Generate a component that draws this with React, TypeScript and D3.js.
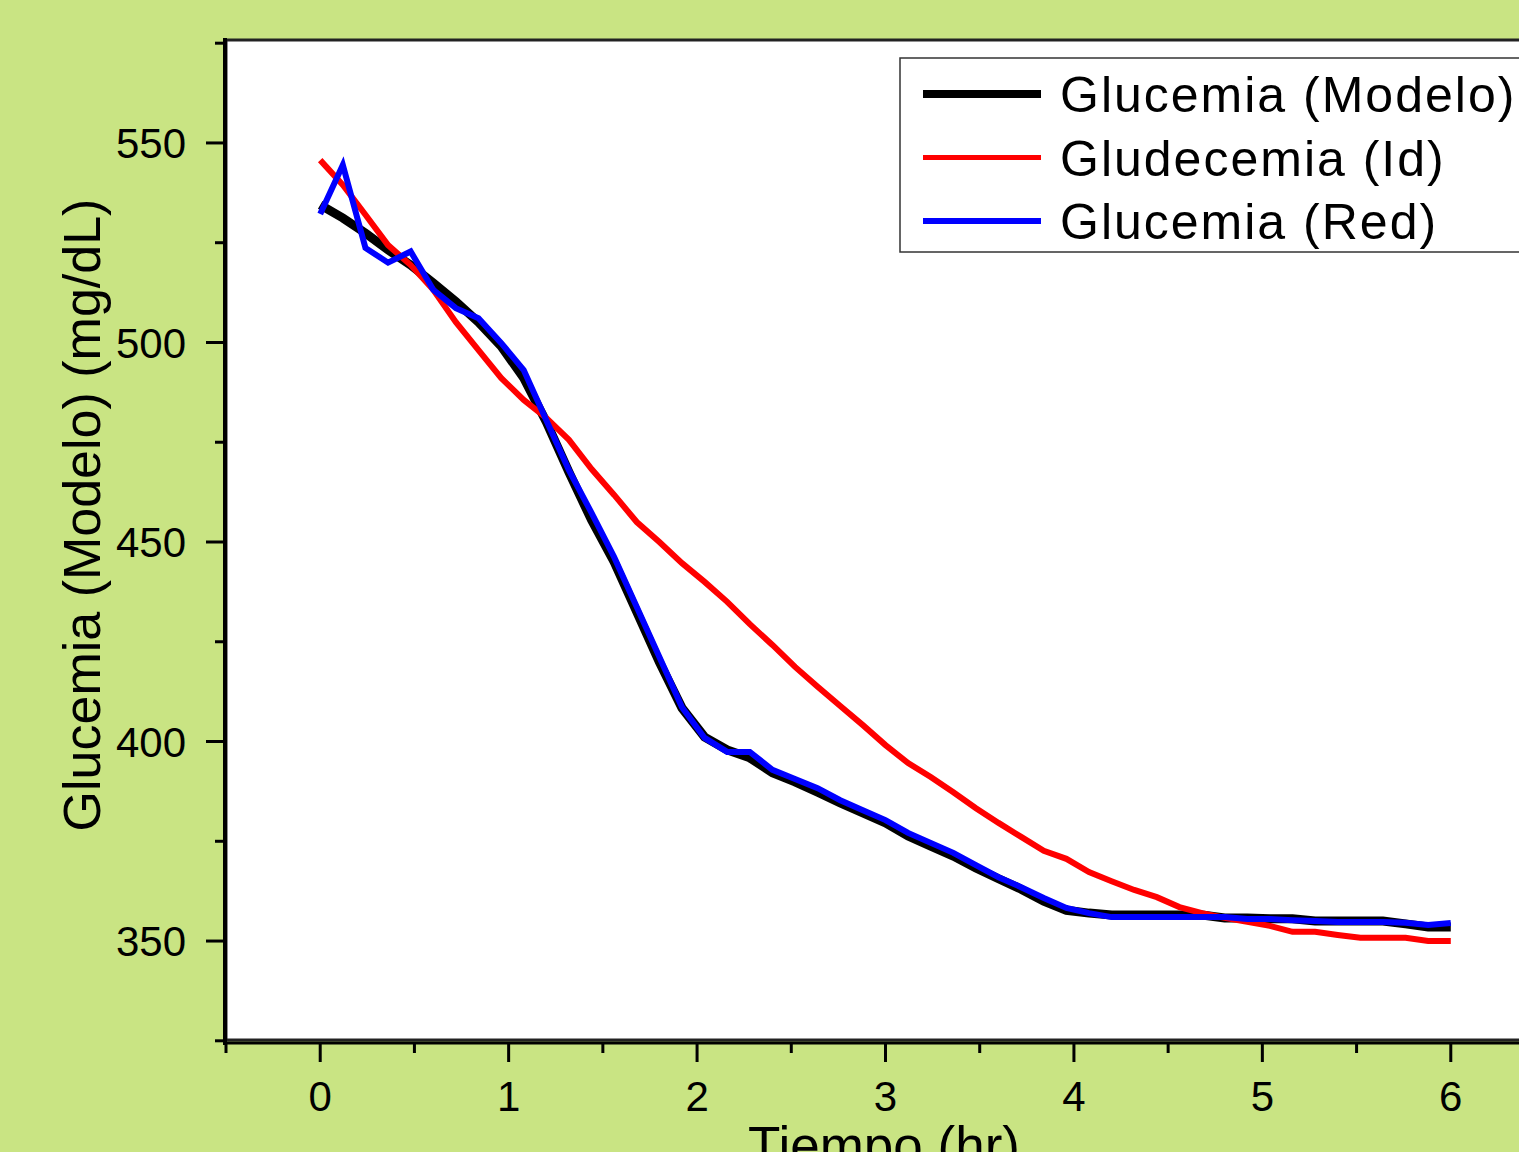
import React from "react";
import * as d3 from "d3";

// chart size
const width = 1519;
const height = 1152;
const plot = { left: 226, top: 40, bottom: 1040, right: 1545 };

// time samples every 0.12 hr
const step = 0.12;

const modelo = [
  534.5, 531.2, 527.4, 523.2, 519.4, 514.9, 510.2, 505.1, 499.1, 491.1,
  480.1, 467.5, 455.5, 445.0, 432.5, 419.9, 408.4, 401.1, 397.9, 395.9,
  392.2, 389.9, 387.3, 384.6, 382.1, 379.6, 376.3, 373.8, 371.3, 368.3,
  365.6, 363.0, 360.0, 357.7, 357.0, 356.5, 356.5, 356.5, 356.5, 356.5,
  355.8, 355.8, 355.6, 355.6, 355.0, 355.0, 355.0, 355.0, 354.3, 353.5,
  353.5,
];

const ident = [
  545.7, 539.5, 532.0, 524.4, 519.4, 513.2, 505.1, 498.1, 491.1, 485.6,
  481.1, 475.6, 468.3, 461.8, 455.0, 450.0, 444.7, 440.0, 435.0, 429.4,
  424.2, 418.7, 413.7, 408.9, 404.1, 399.1, 394.6, 391.1, 387.3, 383.3,
  379.6, 376.1, 372.6, 370.6, 367.3, 365.0, 362.8, 361.0, 358.5, 357.0,
  355.8, 354.8, 353.8, 352.3, 352.3, 351.5, 350.8, 350.8, 350.8, 350.0,
  350.0,
];

const red = [
  532.2, 544.5, 523.7, 520.0, 522.8, 513.2, 508.6, 506.1, 499.9, 493.1,
  480.5, 468.0, 457.3, 446.2, 433.7, 421.2, 408.6, 400.9, 397.4, 397.4,
  392.9, 390.6, 388.3, 385.3, 382.8, 380.3, 377.1, 374.6, 372.1, 369.0,
  366.0, 363.5, 360.8, 358.3, 357.0, 356.0, 356.0, 356.0, 356.0, 356.0,
  356.0, 355.5, 355.5, 355.2, 355.0, 354.8, 354.8, 354.8, 354.6, 354.0,
  354.5,
];

const xTicks = [0, 1, 2, 3, 4, 5, 6];
const xMinor = [-0.5, 0.5, 1.5, 2.5, 3.5, 4.5, 5.5];
const yTicks = [350, 400, 450, 500, 550];
const yMinor = [325, 375, 425, 475, 525, 575];

const legendItems = [
  { label: "Glucemia (Modelo)", color: "#000000", w: 8 },
  { label: "Gludecemia (Id)", color: "#ff0000", w: 5 },
  { label: "Glucemia (Red)", color: "#0000ff", w: 6 },
];

const font = "'Liberation Sans', Arial, sans-serif";

export default function App() {
  const x = d3.scaleLinear().domain([-0.5, 6.5]).range([plot.left, plot.right]);
  const y = d3.scaleLinear().domain([325.2, 575.8]).range([plot.bottom, plot.top]);

  const line = d3
    .line<number>()
    .x((_, i) => x(i * step))
    .y((d) => y(d));

  const series = [
    { data: modelo, color: "#000000", w: 9 },
    { data: ident, color: "#ff0000", w: 6 },
    { data: red, color: "#0000ff", w: 6 },
  ];

  const axisY = plot.bottom + 3;
  const axisX = plot.left - 1;

  return (
    <div style={{ position: "fixed", left: 0, top: 0, width, height, overflow: "hidden" }}>
      <svg width={width} height={height} style={{ display: "block" }} fontFamily={font}>
        <rect x={0} y={0} width={width} height={height} fill="#c9e483" />
        <rect
          x={plot.left}
          y={plot.top}
          width={plot.right - plot.left}
          height={plot.bottom - plot.top}
          fill="#ffffff"
          stroke="#222"
          strokeWidth={3}
        />

        {/* data */}
        {series.map((s, k) => (
          <path
            key={k}
            d={line(s.data) || ""}
            fill="none"
            stroke={s.color}
            strokeWidth={s.w}
            strokeLinejoin="miter"
          />
        ))}

        {/* axes */}
        <line x1={axisX} x2={axisX} y1={plot.top - 2} y2={axisY + 2} stroke="#000" strokeWidth={4} />
        <line x1={axisX - 2} x2={width} y1={axisY} y2={axisY} stroke="#000" strokeWidth={3} />

        {yTicks.map((t) => (
          <g key={"yt" + t}>
            <line x1={axisX - 19} x2={axisX} y1={y(t)} y2={y(t)} stroke="#000" strokeWidth={3} />
            <text x={186} y={y(t)} dy="0.36em" textAnchor="end" fontSize={42}>
              {t}
            </text>
          </g>
        ))}
        {yMinor.map((t) => (
          <line key={"ym" + t} x1={axisX - 10} x2={axisX} y1={y(t)} y2={y(t)} stroke="#000" strokeWidth={3} />
        ))}

        {xTicks.map((t) => (
          <g key={"xt" + t}>
            <line x1={x(t)} x2={x(t)} y1={axisY} y2={axisY + 19} stroke="#000" strokeWidth={3} />
            <text x={x(t)} y={1111} textAnchor="middle" fontSize={42}>
              {t}
            </text>
          </g>
        ))}
        {xMinor.map((t) => (
          <line key={"xm" + t} x1={x(t)} x2={x(t)} y1={axisY} y2={axisY + 10} stroke="#000" strokeWidth={3} />
        ))}

        {/* axis titles */}
        <text
          transform={`translate(100, 515) rotate(-90)`}
          textAnchor="middle"
          fontSize={52}
        >
          Glucemia (Modelo) (mg/dL)
        </text>
        <text x={884} y={1164} textAnchor="middle" fontSize={53}>
          Tiempo (hr)
        </text>

        {/* legend */}
        <rect x={900} y={58} width={660} height={194} fill="#ffffff" stroke="#333" strokeWidth={1.5} />
        {legendItems.map((it, i) => {
          const ly = 94 + i * 63.5;
          return (
            <g key={it.label}>
              <line x1={923} x2={1041} y1={ly} y2={ly} stroke={it.color} strokeWidth={it.w} />
              <text x={1060} y={ly} dy="0.36em" fontSize={50} letterSpacing={2}>
                {it.label}
              </text>
            </g>
          );
        })}
      </svg>
    </div>
  );
}
